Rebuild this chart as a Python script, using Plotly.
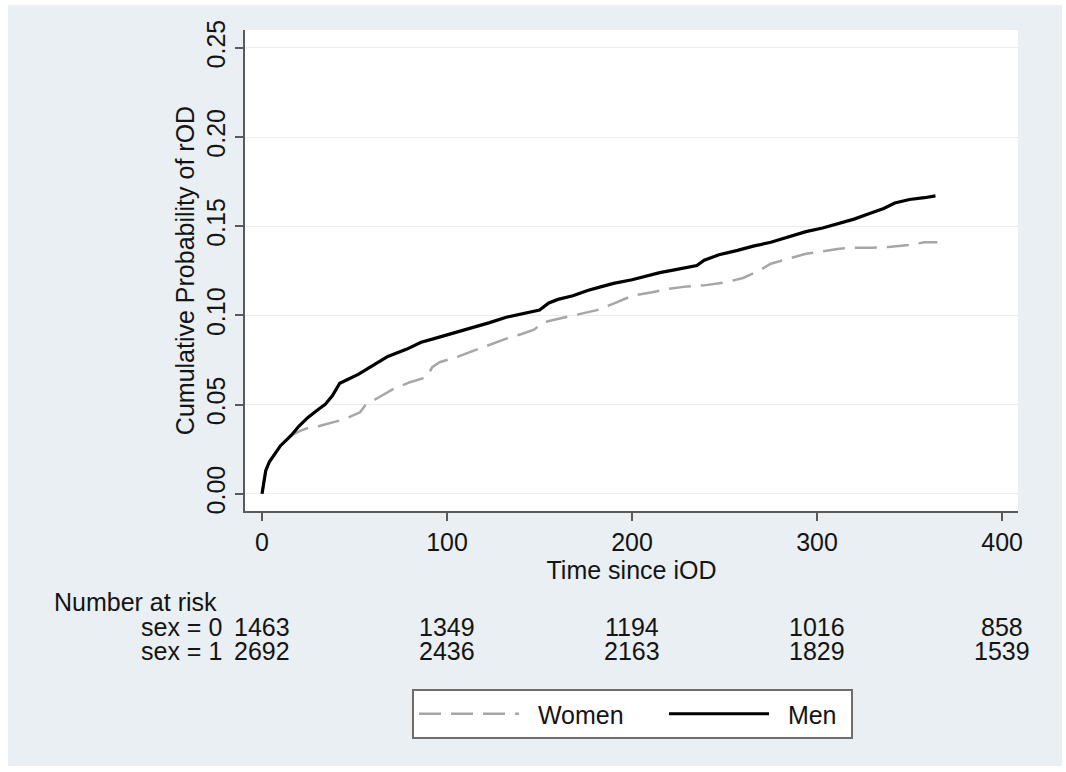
import plotly.graph_objects as go

# ---- data ----
men_t = [0, 1, 2, 4, 6, 8, 10, 13, 16, 20, 25, 30, 34, 38, 42, 46, 52, 60, 68, 78, 86, 93, 100, 105,
         114, 123, 132, 141, 150, 155, 160, 168, 176, 183, 190, 200, 208, 215, 225, 235, 239, 247, 257,
         266, 275, 285, 294, 303, 312, 320, 328, 336, 342, 350, 358, 364]
men_v = [0, .008, .013, .018, .021, .024, .027, .030, .033, .038, .043, .047, .050, .055, .062, .064,
         .067, .072, .077, .081, .085, .087, .089, .0905, .093, .096, .099, .101, .103, .107, .109, .111,
         .114, .116, .118, .120, .122, .124, .126, .128, .131, .134, .1365, .139, .141, .144, .147, .149,
         .1515, .154, .157, .160, .163, .165, .166, .167]

women_t = [0, 1, 2, 4, 6, 8, 10, 13, 16, 20, 25, 31, 38, 45, 53, 56, 63, 71, 80, 89, 92, 96, 105, 114,
           123, 132, 140, 147, 152, 160, 168, 181, 190, 200, 211, 220, 230, 240, 251, 260, 269, 275, 285,
           294, 303, 312, 320, 330, 340, 350, 358, 365]
women_v = [0, .008, .013, .018, .021, .024, .027, .030, .033, .035, .037, .038, .040, .042, .0457, .050,
           .054, .0588, .0626, .0654, .071, .0738, .0766, .080, .0835, .087, .0895, .092, .0962, .098,
           .100, .103, .1066, .111, .113, .115, .1163, .117, .1187, .121, .1253, .129, .132, .1346, .136,
           .1374, .138, .138, .1385, .1395, .141, .141]

x_ticks = [0, 100, 200, 300, 400]
y_ticks = [0.00, 0.05, 0.10, 0.15, 0.20, 0.25]
risk_times = [0, 100, 200, 300, 400]
women_risk = [1463, 1349, 1194, 1016, 858]
men_risk = [2692, 2436, 2163, 1829, 1539]
risk_labels = ["sex = 0", "sex = 1"]

FONT = "Liberation Sans, Arial, Helvetica, sans-serif"
FS = 25
TXT = "#141414"
BG = "#e9eff2"
NB = "\u00a0"

# plot-area geometry in pixels
W, H = 1066, 772
L, R, T, B = 245, 1018, 30, 511
pw, ph = R - L, B - T

def px_x(px):
    return (px - L) / pw

def px_y(py):
    return (B - py) / ph

fig = go.Figure()
fig.add_trace(go.Scatter(x=women_t, y=women_v, mode="lines", name=NB * 2 + "Women",
                         line=dict(color="#a6a6a6", width=2.5, dash="22px,10px"), legendwidth=135))
fig.add_trace(go.Scatter(x=men_t, y=men_v, mode="lines", name=NB * 2 + "Men",
                         line=dict(color="#000000", width=3.2), legendwidth=72))

# background panels
fig.add_shape(type="rect", xref="paper", yref="paper", x0=px_x(8), x1=px_x(1062), y0=px_y(766), y1=px_y(5),
              fillcolor=BG, line_width=0, layer="below")
fig.add_shape(type="rect", xref="paper", yref="paper", x0=0, x1=1, y0=0, y1=1,
              fillcolor="white", line_width=0, layer="below")

# number at risk table
ann = [dict(text="Number at risk", xref="paper", yref="paper", x=px_x(52), y=px_y(602),
            xanchor="left", yanchor="middle", showarrow=False)]
for row, (lab, vals) in enumerate(zip(risk_labels, [women_risk, men_risk])):
    yy = px_y(627 + 24 * row)
    ann.append(dict(text=lab, xref="paper", yref="paper", x=px_x(224), y=yy,
                    xanchor="right", yanchor="middle", showarrow=False))
    for t, v in zip(risk_times, vals):
        ann.append(dict(text=str(v), xref="x", yref="paper", x=t, y=yy,
                        xanchor="center", yanchor="middle", showarrow=False))
for a in ann:
    a["font"] = dict(family=FONT, size=FS, color=TXT)
fig.update_layout(annotations=ann)

fig.update_layout(
    width=W, height=H,
    margin=dict(l=L, r=W - R, t=T, b=H - B, autoexpand=False),
    paper_bgcolor="white", plot_bgcolor="white",
    font=dict(family=FONT, size=FS, color=TXT),
    showlegend=True,
    legend=dict(orientation="h", x=px_x(412), y=px_y(689), xanchor="left", yanchor="top",
                bgcolor="white", bordercolor="#6e6e6e", borderwidth=2,
                itemwidth=100, font=dict(family=FONT, size=FS, color=TXT),
                traceorder="normal"),
    xaxis=dict(range=[-9.2, 408.6], tickvals=x_ticks, showgrid=False, zeroline=False,
               showline=True, linecolor="#5a5a5a", linewidth=2, ticks="outside", ticklen=8,
               tickcolor="#5a5a5a", tickwidth=1.5, tickfont=dict(family=FONT, size=FS, color=TXT),
               title=dict(text="Time since iOD", standoff=3, font=dict(family=FONT, size=FS, color=TXT))),
    yaxis=dict(range=[-0.0096, 0.26], tickvals=y_ticks, tickformat=".2f", tickangle=-90,
               showgrid=True, gridcolor="#ececec", gridwidth=1.2, zeroline=False,
               showline=True, linecolor="#5a5a5a", linewidth=2, ticks="outside", ticklen=8,
               tickcolor="#5a5a5a", tickwidth=1.5, tickfont=dict(family=FONT, size=FS, color=TXT),
               title=dict(text="Cumulative Probability of rOD", standoff=0,
                          font=dict(family=FONT, size=FS, color=TXT))),
)

fig.write_html("out.html")
